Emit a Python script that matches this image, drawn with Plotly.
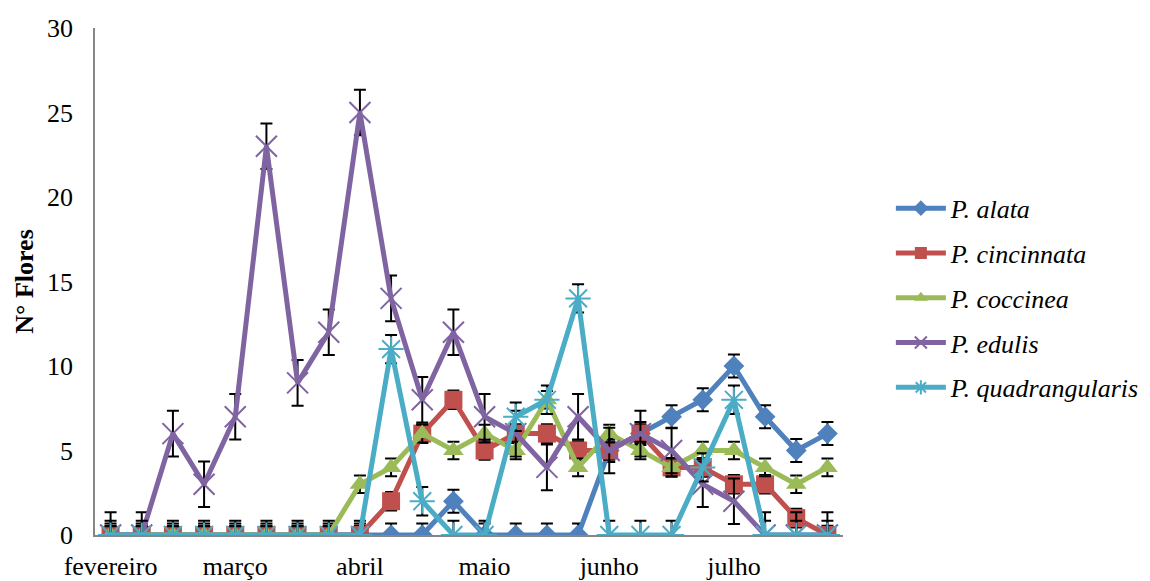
import plotly.graph_objects as go

# --- data ---
x_index = list(range(24))
month_labels = ["fevereiro", "março", "abril", "maio", "junho", "julho"]
month_positions = [0, 4, 8, 12, 16, 20]

series_names = ["P. alata", "P. cincinnata", "P. coccinea", "P. edulis", "P. quadrangularis"]

p_alata = [0, 0, 0, 0, 0, 0, 0, 0, 0, 0, 0, 2, 0, 0, 0, 0, 5, 6, 7, 8, 10, 7, 5, 6]
p_cincinnata = [0, 0, 0, 0, 0, 0, 0, 0, 0, 2, 6, 8, 5, 6, 6, 5, 5, 6, 4, 4, 3, 3, 1, 0]
p_coccinea = [0, 0, 0, 0, 0, 0, 0, 0, 3, 4, 6, 5, 6, 5, 8, 4, 6, 5, 4, 5, 5, 4, 3, 4]
p_edulis = [0, 0, 6, 3, 7, 23, 9, 12, 25, 14, 8, 12, 7, 6, 4, 7, 5, 6, 5, 3, 2, 0, 0, 0]
p_quadrangularis = [0, 0, 0, 0, 0, 0, 0, 0, 0, 11, 2, 0, 0, 7, 8, 14, 0, 0, 0, 4, 8, 0, 0, 0]

# standard-error bar size per series
std_error = [0.68, 0.55, 0.52, 1.35, 0.84]

series_values = [p_alata, p_cincinnata, p_coccinea, p_edulis, p_quadrangularis]
colors = ["#4F81BD", "#C0504D", "#9BBB59", "#8064A2", "#4BACC6"]
symbols = ["diamond", "square", "triangle-up", "x-thin-open", "asterisk-open"]
marker_sizes = [16, 18, 18, 21, 21]

FONT = "Liberation Serif, Times New Roman, serif"

fig = go.Figure()
for i, (name, vals, col, sym, msz, se) in enumerate(
        zip(series_names, series_values, colors, symbols, marker_sizes, std_error)):
    marker = dict(symbol=sym, size=msz, color=col)
    if sym.endswith("open"):
        marker["line"] = dict(color=col, width=2)
    fig.add_trace(go.Scatter(
        x=x_index, y=vals, name=f"<i>{name}</i>", mode="lines+markers",
        legendgroup=f"g{i}",
        line=dict(color=col, width=5),
        marker=marker,
        error_y=dict(type="constant", value=se, color="black", thickness=2, width=6),
    ))

fig.update_layout(
    width=1150, height=581,
    margin=dict(l=87, r=315, t=20, b=54, autoexpand=False),
    paper_bgcolor="white", plot_bgcolor="white",
    font=dict(family=FONT, size=26, color="black"),
    showlegend=True,
    legend=dict(x=1.064, y=0.467, xanchor="left", yanchor="middle",
                font=dict(family=FONT, size=26, color="black"),
                tracegroupgap=8, itemsizing="constant", itemwidth=50,
                bgcolor="rgba(0,0,0,0)"),
)
fig.update_xaxes(
    range=[-0.5, 23.5], tickmode="array", tickvals=month_positions, ticktext=month_labels,
    showgrid=False, zeroline=False, showline=True, linecolor="#868686", linewidth=1.5,
    ticks="outside", ticklen=7, tickcolor="rgba(0,0,0,0)", automargin=False,
    tickfont=dict(family=FONT, size=26, color="black"),
)
fig.update_yaxes(
    range=[0, 30], tickmode="array", tickvals=[0, 5, 10, 15, 20, 25, 30],
    showgrid=False, zeroline=False, showline=True, linecolor="#868686", linewidth=1.5,
    ticks="outside", ticklen=15, tickcolor="rgba(0,0,0,0)", automargin=False,
    tickfont=dict(family=FONT, size=26, color="black"),
    title=dict(text="<b>N° Flores</b>", font=dict(family=FONT, size=26, color="black"), standoff=6),
)

fig.write_html("out.html")
